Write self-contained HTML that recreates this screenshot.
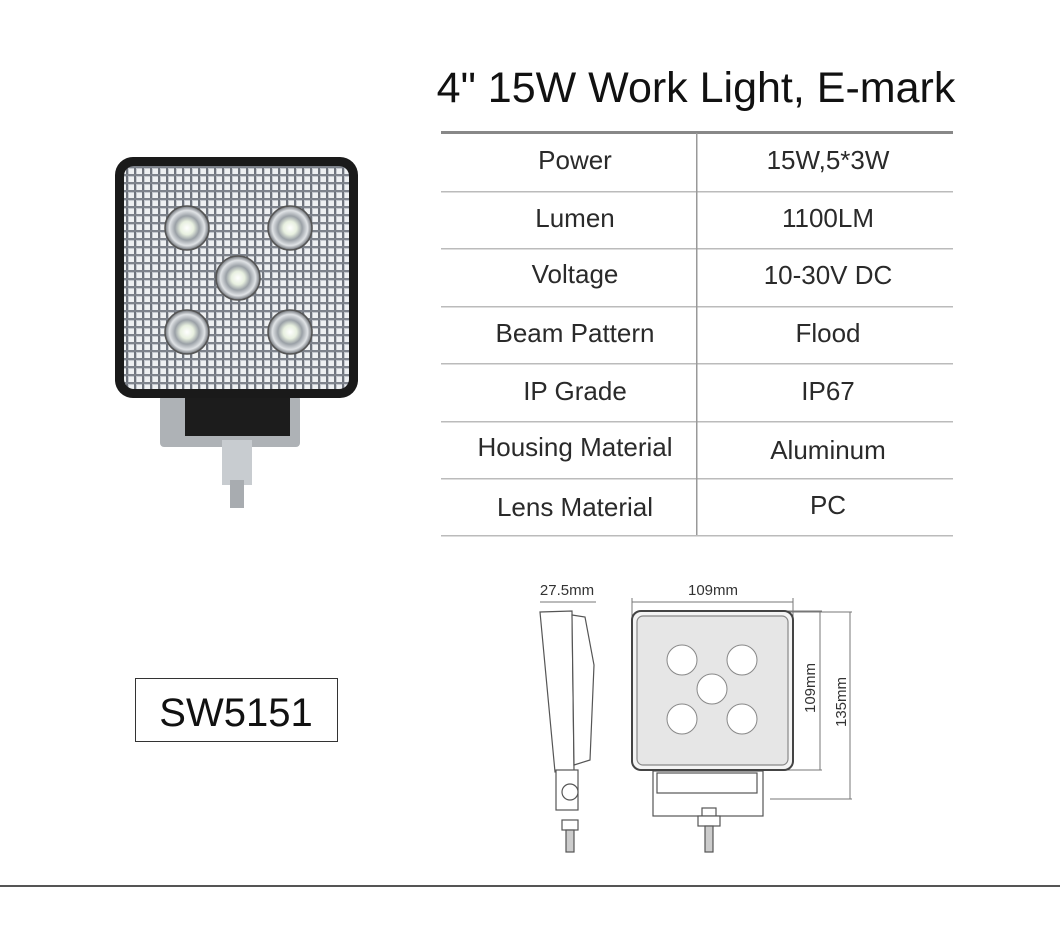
<!DOCTYPE html>
<html><head><meta charset="utf-8"><style>
body{margin:0;width:1060px;height:933px;background:#fff;position:relative;overflow:hidden;font-family:"Liberation Sans",sans-serif}
.t{position:absolute;font-size:26px;color:#2a2a2a;text-align:center;width:256px}
</style></head><body>
<div style="position:absolute;left:423px;top:64px;width:546px;text-align:center;font-size:43px;color:#111;white-space:nowrap">4" 15W Work Light, E-mark</div>
<svg width="1060" height="933" style="position:absolute;left:0;top:0">
<defs>
<pattern id="g" width="8" height="8" patternUnits="userSpaceOnUse">
<rect width="8" height="8" fill="#c4c8ce"/><rect x="1" y="1" width="5" height="5" fill="#eef0f2"/><rect x="6" y="0" width="2" height="8" fill="#6e737c"/><rect x="0" y="6" width="8" height="2" fill="#7e838c"/>
</pattern>
<radialGradient id="led"><stop offset="0" stop-color="#fff"/><stop offset="0.3" stop-color="#e8f0e0"/><stop offset="0.55" stop-color="#9aa0a6"/><stop offset="0.8" stop-color="#e0e3e6"/><stop offset="1" stop-color="#6a6e74"/></radialGradient>
</defs>
<rect x="441" y="131" width="512" height="3" fill="#888"/>
<g fill="#bbb">
<rect x="441" y="191" width="512" height="1.5"/><rect x="441" y="248" width="512" height="1.5"/>
<rect x="441" y="306" width="512" height="1.5"/><rect x="441" y="363" width="512" height="1.5"/>
<rect x="441" y="421" width="512" height="1.5"/><rect x="441" y="478" width="512" height="1.5"/>
<rect x="441" y="535" width="512" height="1.5"/>
</g>
<rect x="696" y="133" width="1.5" height="402" fill="#999"/>
<rect x="160" y="395" width="140" height="52" fill="#aeb2b6" rx="4"/>
<rect x="185" y="396" width="105" height="40" fill="#1c1c1c"/>
<rect x="222" y="440" width="30" height="45" fill="#c8ccd0"/>
<rect x="230" y="480" width="14" height="28" fill="#a8acb0"/>
<rect x="115" y="157" width="243" height="241" rx="18" fill="#1a1a1a"/>
<rect x="124" y="166" width="225" height="223" rx="10" fill="url(#g)"/>
<g stroke="#555" stroke-width="1.5">
<circle cx="187" cy="228" r="22" fill="url(#led)"/><circle cx="290" cy="228" r="22" fill="url(#led)"/>
<circle cx="238" cy="278" r="22" fill="url(#led)"/><circle cx="187" cy="332" r="22" fill="url(#led)"/>
<circle cx="290" cy="332" r="22" fill="url(#led)"/>
</g>
<rect x="135.5" y="678.5" width="202" height="63" fill="none" stroke="#333" stroke-width="1"/>
<text x="236" y="726" font-size="40" text-anchor="middle" fill="#111" font-family="Liberation Sans">SW5151</text>
<g fill="none" stroke="#777" stroke-width="1">
<line x1="540" y1="602" x2="596" y2="602"/><line x1="632" y1="602" x2="793" y2="602"/>
<line x1="632" y1="598" x2="632" y2="620"/><line x1="793" y1="598" x2="793" y2="620"/>
<line x1="780" y1="611" x2="822" y2="611"/><line x1="780" y1="612" x2="852" y2="612"/>
<line x1="820" y1="611" x2="820" y2="770"/><line x1="850" y1="612" x2="850" y2="799"/>
<line x1="770" y1="799" x2="852" y2="799"/><line x1="770" y1="770" x2="822" y2="770"/>
</g>
<g stroke="#555" stroke-width="1.2" fill="#fff">
<path d="M540 612 L572 611 L574 770 L555 772 Z"/>
<path d="M572 615 L585 617 L594 665 L590 760 L574 765 Z"/>
<rect x="556" y="770" width="22" height="40"/>
<circle cx="570" cy="792" r="8"/>
<rect x="562" y="820" width="16" height="10"/><rect x="566" y="830" width="8" height="22" fill="#ccc"/>
<rect x="653" y="771" width="110" height="45"/>
<rect x="657" y="773" width="100" height="20"/>
<rect x="702" y="808" width="14" height="8"/><rect x="698" y="816" width="22" height="10"/>
<rect x="705" y="826" width="8" height="26" fill="#ccc"/>
<rect x="632" y="611" width="161" height="159" rx="9" fill="#f4f4f4" stroke="#444" stroke-width="2"/>
<rect x="637" y="616" width="151" height="149" rx="6" fill="#e6e6e6" stroke="#888"/>
</g>
<g fill="#fff" stroke="#888">
<circle cx="682" cy="660" r="15"/><circle cx="742" cy="660" r="15"/><circle cx="712" cy="689" r="15"/>
<circle cx="682" cy="719" r="15"/><circle cx="742" cy="719" r="15"/>
</g>
<g font-family="Liberation Sans" font-size="15" fill="#333">
<text x="567" y="595" text-anchor="middle">27.5mm</text>
<text x="713" y="595" text-anchor="middle">109mm</text>
<text transform="translate(815,688) rotate(-90)" text-anchor="middle">109mm</text>
<text transform="translate(846,702) rotate(-90)" text-anchor="middle">135mm</text>
</g>
<rect x="0" y="885" width="1060" height="2" fill="#555"/>
</svg>
<div class="t" style="left:447px;top:145px">Power</div><div class="t" style="left:700px;top:145px">15W,5*3W</div>
<div class="t" style="left:447px;top:203px">Lumen</div><div class="t" style="left:700px;top:203px">1100LM</div>
<div class="t" style="left:447px;top:259px">Voltage</div><div class="t" style="left:700px;top:260px">10-30V DC</div>
<div class="t" style="left:447px;top:318px">Beam Pattern</div><div class="t" style="left:700px;top:318px">Flood</div>
<div class="t" style="left:447px;top:376px">IP Grade</div><div class="t" style="left:700px;top:376px">IP67</div>
<div class="t" style="left:447px;top:432px">Housing Material</div><div class="t" style="left:700px;top:435px">Aluminum</div>
<div class="t" style="left:447px;top:492px">Lens Material</div><div class="t" style="left:700px;top:490px">PC</div>
</body></html>
